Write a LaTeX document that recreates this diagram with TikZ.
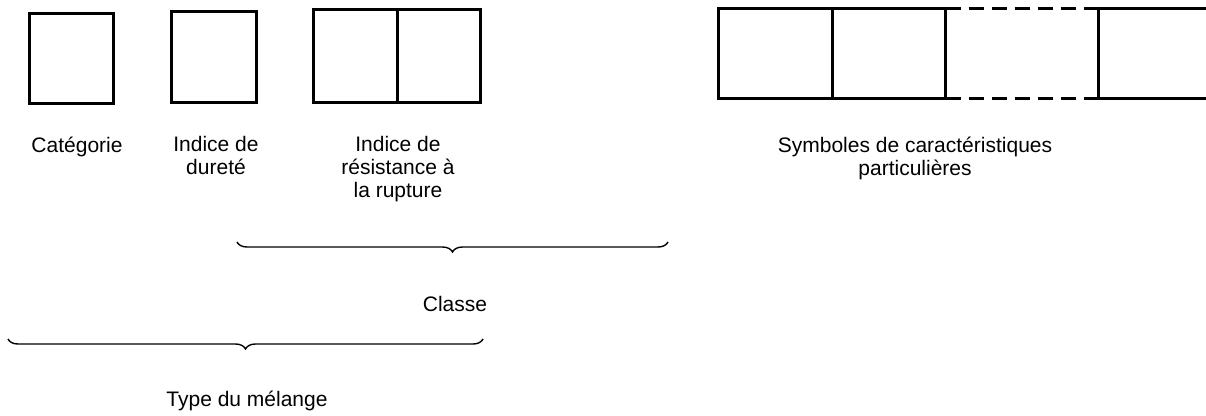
\documentclass[tikz,border=0pt]{standalone}
\usepackage{fontspec}
\setmainfont{Liberation Sans}
\usetikzlibrary{decorations.pathreplacing}
\begin{document}
\begin{tikzpicture}[x=1pt,y=-1pt,
  cell/.style={draw, line width=3pt, inner sep=0pt, outer sep=0pt},
  edge/.style={line width=3pt},
  dashedge/.style={line width=2.4pt, dash pattern=on 15pt off 8pt},
  lbl/.style={align=center, font=\fontsize{21}{23}\selectfont, inner sep=0pt, anchor=north},
  brc/.style={decorate, decoration={brace, mirror, amplitude=10pt}, line width=1.4pt}]
\useasboundingbox (0,0) rectangle (1206,415);

% boxes
\node[cell, minimum width=84pt, minimum height=90pt] (cat) at (71.5,58.5) {};
\node[cell, minimum width=85pt, minimum height=91pt] (dur) at (214,57) {};
\node[cell, minimum width=83.5pt, minimum height=93pt] (resA) at (355.25,56) {};
\node[cell, minimum width=83.5pt, minimum height=93pt] (resB) at (438.75,56) {};
\node[cell, minimum width=113.5pt, minimum height=90pt] (symA) at (775.25,53.5) {};
\node[cell, minimum width=113.5pt, minimum height=90pt] (symB) at (888.75,53.5) {};
\coordinate (lastNW) at (1098.5,8.5);
\coordinate (lastSW) at (1098.5,98.5);
\coordinate (lastNE) at (1212,8.5);
\coordinate (lastSE) at (1212,98.5);
\draw[edge] (lastNE) -- (lastNW) -- (lastSW) -- (lastSE);
\draw[dashedge] (symB.north east) -- (lastNW);
\draw[dashedge] (symB.south east) -- (lastSW);

% labels
\node[lbl] (tcat) at (77,136.5) {Catégorie};
\node[lbl] (tdur) at (216,136.5) {Indice de\\dureté};
\node[lbl] (tres) at (398,136.5) {Indice de\\résistance à\\la rupture};
\node[lbl] (tsym) at (915,136.5) {Symboles de caractéristiques\\particulières};

% braces
\coordinate (c1) at (237,242);
\coordinate (c2) at (668,242);
\draw[brc] (c1) -- (c2);
\node[lbl] (tclasse) at (455,296.5) {Classe};
\coordinate (t1) at (8,339);
\coordinate (t2) at (483,339);
\draw[brc] (t1) -- (t2);
\node[lbl] (ttype) at (247,390.5) {Type du mélange};
\end{tikzpicture}
\end{document}
